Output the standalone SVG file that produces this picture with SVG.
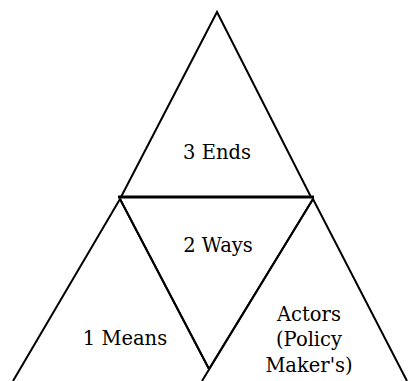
<svg xmlns="http://www.w3.org/2000/svg" width="408" height="381" viewBox="0 0 408 381">
<style>
.edge{fill:none;stroke:#000;stroke-width:2;stroke-linejoin:miter}
.base{stroke:#000;stroke-width:3}
text{font-family:"DejaVu Serif","Liberation Serif",serif;font-size:19.5px;fill:#000;text-anchor:middle}
</style>
<rect width="408" height="381" fill="#fff"/>
<g id="connectors">
<line class="base" x1="118" y1="197" x2="314" y2="197"/>
</g>
<g id="ends">
<polygon class="edge" points="217,12 121,197 311,197"/>
<text x="217" y="159">3 Ends</text>
</g>
<g id="ways">
<polyline class="edge" points="120,199 209,369 313,199"/>
<text x="218" y="252">2 Ways</text>
</g>
<g id="means">
<polyline class="edge" points="13,381 120,199 209,369"/>
<text x="125" y="345">1 Means</text>
</g>
<g id="actors">
<polyline class="edge" points="202,381 313,199 407,381"/>
<text x="309" y="321">Actors</text>
<text x="309" y="346">(Policy</text>
<text x="309" y="372">Maker's)</text>
</g>
</svg>
